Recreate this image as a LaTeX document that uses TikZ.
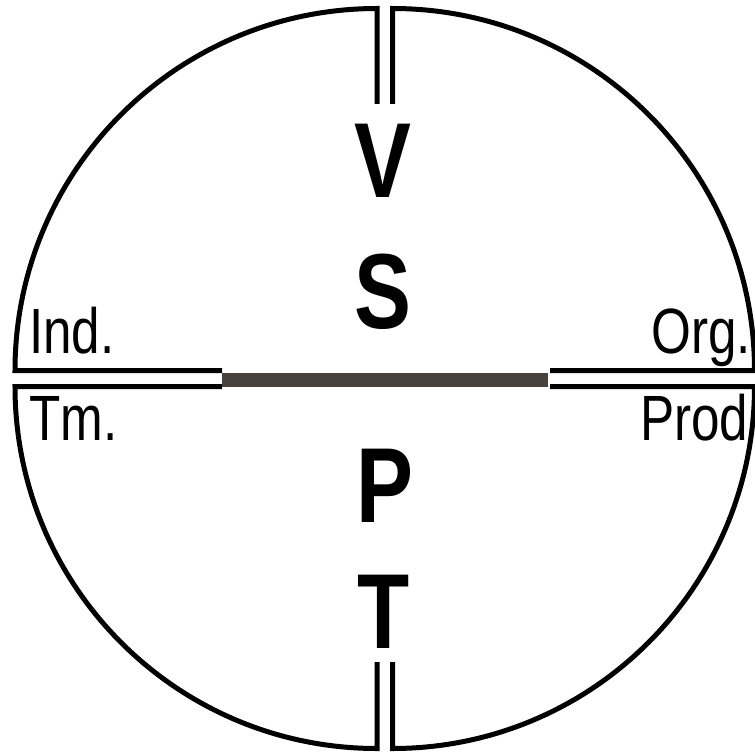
\documentclass[tikz,border=0pt]{standalone}
\usepackage{fontspec}
\setmainfont{Liberation Sans}
\usepackage{tikz}
\usetikzlibrary{positioning}
\definecolor{mybar}{RGB}{72,66,61}
\tikzset{
  quad/.style={draw=black, line width=3.75pt, line join=miter, miter limit=10},
  bigletter/.style={font=\fontsize{80}{80}\selectfont\bfseries, inner sep=0pt, anchor=base, xscale=0.8},
  corner/.style={font=\fontsize{48}{48}\selectfont, inner sep=0pt, xscale=0.8}
}

\begin{document}
\begin{tikzpicture}[x=0.75pt, y=-0.75pt]
  \useasboundingbox (0,0) rectangle (755,752);

  % Quadrants
  \draw[quad] (377,104) -- (377,8.5) arc[start angle=-90, end angle=-180, radius=362] -- (222,370.5);
  \draw[quad] (392.5,104) -- (392.5,8.5) arc[start angle=-90, end angle=0, radius=362] -- (550,370.5);
  \draw[quad] (222,386.5) -- (15,386.5) arc[start angle=180, end angle=90, radius=362] -- (377,662);
  \draw[quad] (550,386.5) -- (754.5,386.5) arc[start angle=0, end angle=90, radius=362] -- (392.5,662);

  % Middle bar
  \fill[mybar] (222,373) rectangle (548,387);

  % Letters
  \node[bigletter] (v) at (383,198) {V};
  \node[bigletter] (s) at (383,328.5) {S};
  \node[bigletter] (p) at (385,522) {P};
  \node[bigletter] (t) at (383.5,648) {T};

  % Corner labels
  \node[corner, anchor=base west] (ind) at (29,353) {Ind.};
  \node[corner, anchor=base east] (org) at (751,353) {Org.};
  \node[corner, anchor=base west] (tm) at (29,440) {Tm.};
  \node[corner, anchor=base east] (prod) at (748.5,440) {Prod};
\end{tikzpicture}
\end{document}
